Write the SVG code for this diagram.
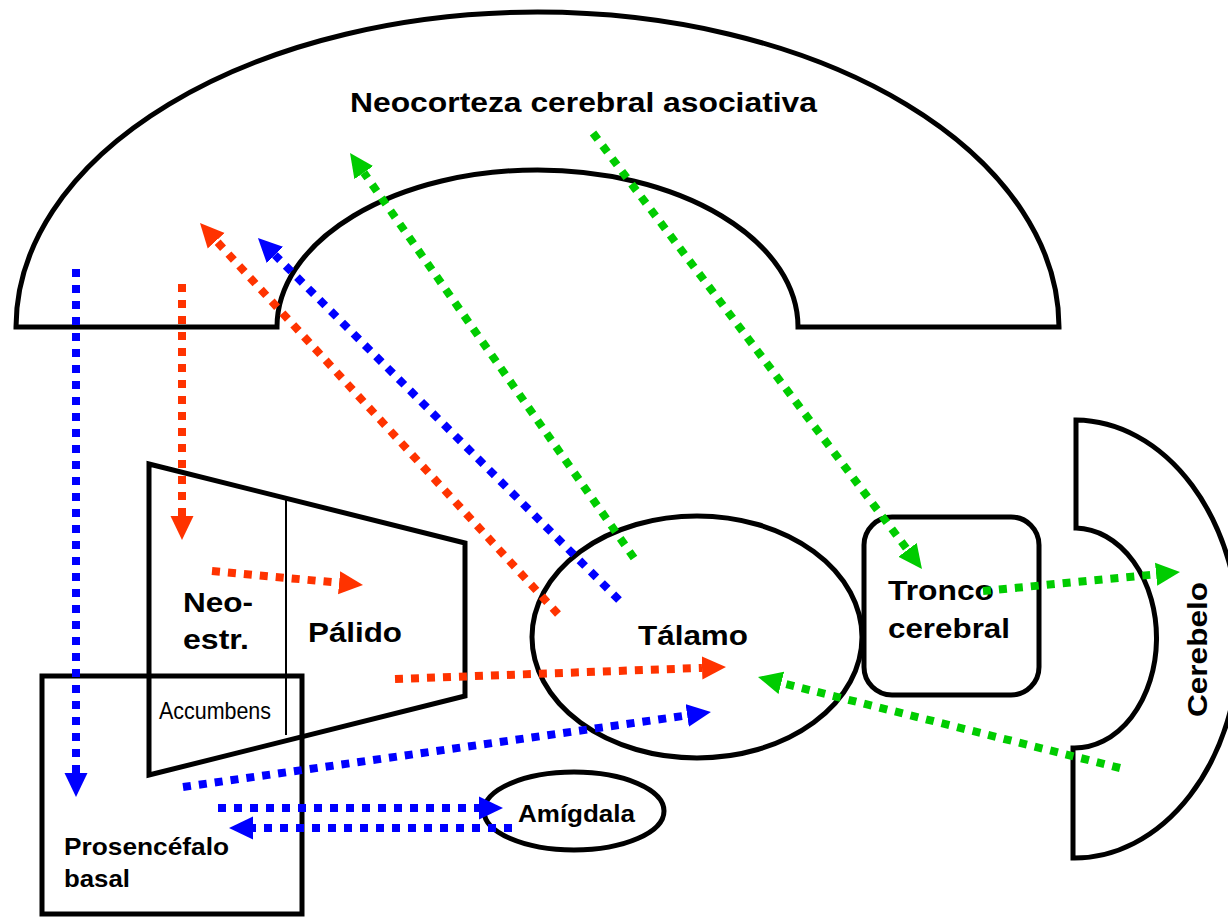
<svg xmlns="http://www.w3.org/2000/svg" width="1228" height="918" viewBox="0 0 1228 918">
<style>
.s{fill:none;stroke:#000;stroke-width:5;stroke-linejoin:miter}
.t{font-family:"Liberation Sans",Arial,sans-serif;font-weight:bold;font-size:28px;fill:#000}
.m{font-size:24px}
.n{font-family:"Liberation Sans",Arial,sans-serif;font-size:24px;fill:#000}
.c{fill:none;stroke-width:8;stroke-dasharray:8 8}
.b{stroke:#0000FF}
.r{stroke:#FF3300}
.g{stroke:#00CC00}
</style>
<defs>
<marker id="ab" markerUnits="userSpaceOnUse" viewBox="0 -12 24 24" refX="0" refY="0" markerWidth="24" markerHeight="24" orient="auto"><path d="M0,-11.5 L24,0 L0,11.5 Z" fill="#0000FF"/></marker>
<marker id="ar" markerUnits="userSpaceOnUse" viewBox="0 -12 24 24" refX="0" refY="0" markerWidth="24" markerHeight="24" orient="auto"><path d="M0,-11.5 L24,0 L0,11.5 Z" fill="#FF3300"/></marker>
<marker id="ag" markerUnits="userSpaceOnUse" viewBox="0 -12 24 24" refX="0" refY="0" markerWidth="24" markerHeight="24" orient="auto"><path d="M0,-11.5 L24,0 L0,11.5 Z" fill="#00CC00"/></marker>
</defs>
<rect width="1228" height="918" fill="#fff"/>
<g id="neocorteza">
<path class="s" d="M16,327 A521.5,315 0 0 1 1059,327 L798,327 A260.5,157 0 0 0 277,327 Z"/>
<text class="t" x="350" y="112" textLength="467" lengthAdjust="spacingAndGlyphs">Neocorteza cerebral asociativa</text>
</g>
<g id="estriado">
<path class="s" d="M149,464 L465,543 L465,696 L149,775 Z"/>
<line x1="286" y1="498" x2="286" y2="735" stroke="#000" stroke-width="2"/>
<text class="t" x="183" y="612" textLength="70" lengthAdjust="spacingAndGlyphs">Neo-</text>
<text class="t" x="183" y="649" textLength="66" lengthAdjust="spacingAndGlyphs">estr.</text>
<text class="t" x="308" y="642" textLength="94" lengthAdjust="spacingAndGlyphs">Pálido</text>
<text class="n" x="159" y="719" textLength="112" lengthAdjust="spacingAndGlyphs">Accumbens</text>
</g>
<g id="prosencefalo">
<rect class="s" x="42" y="676" width="260" height="238"/>
<text class="t m" x="64" y="855" textLength="165" lengthAdjust="spacingAndGlyphs">Prosencéfalo</text>
<text class="t m" x="64" y="887" textLength="66" lengthAdjust="spacingAndGlyphs">basal</text>
</g>
<g id="amigdala">
<ellipse class="s" cx="574" cy="811" rx="90" ry="39"/>
<text class="t m" x="518" y="822" textLength="117" lengthAdjust="spacingAndGlyphs">Amígdala</text>
</g>
<g id="talamo">
<ellipse class="s" cx="697" cy="637" rx="165" ry="121"/>
<text class="t" x="638" y="645" textLength="110" lengthAdjust="spacingAndGlyphs">Tálamo</text>
</g>
<g id="tronco">
<rect class="s" x="864" y="517" width="175" height="178" rx="28" ry="28"/>
<text class="t" x="888" y="600" textLength="106" lengthAdjust="spacingAndGlyphs">Tronco</text>
<text class="t" x="888" y="638" textLength="122" lengthAdjust="spacingAndGlyphs">cerebral</text>
</g>
<g id="cerebelo">
<path class="s" d="M1076,420 A165,219 0 0 1 1073,858 L1073,748 A82,110 0 0 0 1076,528 Z"/>
<text class="t" transform="translate(1207,717) rotate(-90)" x="0" y="0" textLength="135" lengthAdjust="spacingAndGlyphs">Cerebelo</text>
</g>
<g id="connectors">
<line class="c b" x1="76" y1="269" x2="76" y2="773" marker-end="url(#ab)"/>
<line class="c r" x1="182" y1="284" x2="182" y2="516" marker-end="url(#ar)"/>
<line class="c r" x1="558" y1="614" x2="216.2" y2="240.7" marker-end="url(#ar)"/>
<line class="c b" x1="619" y1="600" x2="274.9" y2="255" marker-end="url(#ab)"/>
<line class="c g" x1="634" y1="558" x2="363.8" y2="172.6" marker-end="url(#ag)"/>
<line class="c g" x1="593" y1="133" x2="907.5" y2="549.8" marker-end="url(#ag)"/>
<line class="c r" x1="212" y1="571" x2="339.1" y2="582.8" marker-end="url(#ar)"/>
<line class="c r" x1="395" y1="679" x2="702" y2="667.9" marker-end="url(#ar)"/>
<line class="c b" x1="183" y1="787" x2="687.2" y2="715.4" marker-end="url(#ab)"/>
<line class="c b" x1="218" y1="808" x2="479" y2="808" marker-end="url(#ab)"/>
<line class="c b" x1="512" y1="828" x2="253" y2="828" marker-end="url(#ab)"/>
<line class="c g" x1="983" y1="591" x2="1156.1" y2="574.3" marker-end="url(#ag)"/>
<line class="c g" x1="1120" y1="768" x2="781.3" y2="682.9" marker-end="url(#ag)"/>
</g>
</svg>
